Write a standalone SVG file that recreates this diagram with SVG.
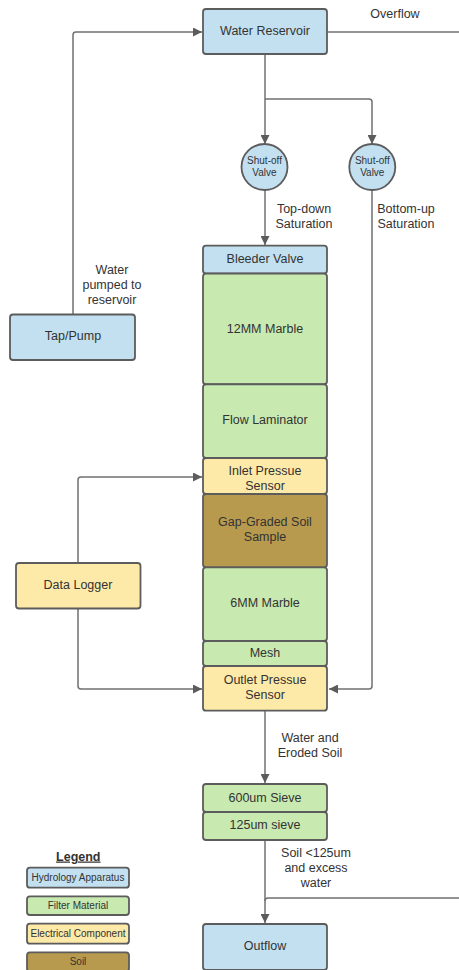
<svg xmlns="http://www.w3.org/2000/svg" width="459" height="970" viewBox="0 0 459 970">
  <style>
    .node { stroke: #5c5c5c; stroke-width: 1.8; }
    .hyd { fill: #c2e0f0; }
    .fil { fill: #c8e9b0; }
    .ele { fill: #fde9a8; }
    .soil { fill: #b89a4e; }
    .t { font-family: "Liberation Sans", Arial, sans-serif; font-size: 12.5px; fill: #333333; text-anchor: middle; }
    .s { font-family: "Liberation Sans", Arial, sans-serif; font-size: 10px; fill: #333333; text-anchor: middle; }
    .conn { fill: none; stroke: #707070; stroke-width: 1.5; }
  </style>
  <defs>
    <marker id="arrow" markerUnits="userSpaceOnUse" markerWidth="10" markerHeight="9" refX="9" refY="4.5" orient="auto">
      <path d="M0,0 L9,4.5 L0,9 z" fill="#5c5c5c"/>
    </marker>
  </defs>
  <rect width="459" height="970" fill="#ffffff"/>

  <!-- connectors -->
  <g id="connectors">
    <path class="conn" d="M73,314 V35 Q73,32 76,32 H202" marker-end="url(#arrow)"/>
    <path class="conn" d="M327,32 H459"/>
    <path class="conn" d="M265,54 V144" marker-end="url(#arrow)"/>
    <path class="conn" d="M265,99 H369 Q372,99 372,102 V144" marker-end="url(#arrow)"/>
    <path class="conn" d="M265,190 V245" marker-end="url(#arrow)"/>
    <path class="conn" d="M372,190 V686 Q372,689 369,689 H329" marker-end="url(#arrow)"/>
    <path class="conn" d="M78,563 V480 Q78,477 81,477 H202" marker-end="url(#arrow)"/>
    <path class="conn" d="M78,609 V686 Q78,689 81,689 H202" marker-end="url(#arrow)"/>
    <path class="conn" d="M265,711 V783" marker-end="url(#arrow)"/>
    <path class="conn" d="M265,840 V923" marker-end="url(#arrow)"/>
    <path class="conn" d="M459,898 H268 Q265,898 265,901"/>
    <text class="t" x="395" y="18">Overflow</text>
    <text class="t" x="304" y="213">Top-down</text>
    <text class="t" x="304" y="228">Saturation</text>
    <text class="t" x="406" y="213">Bottom-up</text>
    <text class="t" x="406" y="228">Saturation</text>
    <text class="t" x="112" y="274">Water</text>
    <text class="t" x="112" y="289">pumped to</text>
    <text class="t" x="112" y="304">reservoir</text>
    <text class="t" x="310" y="742">Water and</text>
    <text class="t" x="310" y="757">Eroded Soil</text>
    <text class="t" x="316" y="857">Soil &lt;125um</text>
    <text class="t" x="316" y="872">and excess</text>
    <text class="t" x="316" y="887">water</text>
  </g>

  <g id="water-reservoir">
    <rect class="node hyd" x="203" y="9" width="124" height="45" rx="3"/>
    <text class="t" x="265" y="35">Water Reservoir</text>
  </g>
  <g id="valve-top-down">
    <circle class="node hyd" cx="264.5" cy="167" r="23"/>
    <text class="s" x="264.5" y="163.5">Shut-off</text>
    <text class="s" x="264.5" y="175.5">Valve</text>
  </g>
  <g id="valve-bottom-up">
    <circle class="node hyd" cx="372.3" cy="167" r="23"/>
    <text class="s" x="372.3" y="163.5">Shut-off</text>
    <text class="s" x="372.3" y="175.5">Valve</text>
  </g>
  <g id="tap-pump">
    <rect class="node hyd" x="10" y="314.5" width="125" height="45.5" rx="3"/>
    <text class="t" x="73" y="340">Tap/Pump</text>
  </g>
  <g id="data-logger">
    <rect class="node ele" x="16" y="563" width="124.5" height="45.5" rx="3"/>
    <text class="t" x="78" y="588.5">Data Logger</text>
  </g>

  <g id="bleeder-valve">
    <rect class="node hyd" x="203" y="245.7" width="124" height="27.8" rx="3"/>
    <text class="t" x="265" y="262.8">Bleeder Valve</text>
  </g>
  <g id="marble-12mm">
    <rect class="node fil" x="203" y="273.7" width="124" height="110.5" rx="3"/>
    <text class="t" x="265" y="333">12MM Marble</text>
  </g>
  <g id="flow-laminator">
    <rect class="node fil" x="203" y="384.3" width="124" height="73.7" rx="3"/>
    <text class="t" x="265" y="424">Flow Laminator</text>
  </g>
  <g id="inlet-sensor">
    <rect class="node ele" x="203" y="458" width="124" height="36" rx="3"/>
    <text class="t" x="265" y="475">Inlet Pressue</text>
    <text class="t" x="265" y="490.3">Sensor</text>
  </g>
  <g id="soil-sample">
    <rect class="node soil" x="203" y="494" width="124" height="73.3" rx="3"/>
    <text class="t" x="265" y="526.3">Gap-Graded Soil</text>
    <text class="t" x="265" y="541">Sample</text>
  </g>
  <g id="marble-6mm">
    <rect class="node fil" x="203" y="567.3" width="124" height="73.7" rx="3"/>
    <text class="t" x="265" y="607">6MM Marble</text>
  </g>
  <g id="mesh">
    <rect class="node fil" x="203" y="641" width="124" height="25" rx="3"/>
    <text class="t" x="265" y="657">Mesh</text>
  </g>
  <g id="outlet-sensor">
    <rect class="node ele" x="203" y="666" width="124" height="44.7" rx="3"/>
    <text class="t" x="265" y="684">Outlet Pressue</text>
    <text class="t" x="265" y="699">Sensor</text>
  </g>

  <g id="sieve-600">
    <rect class="node fil" x="203" y="784" width="124" height="28" rx="3"/>
    <text class="t" x="265" y="801.6">600um Sieve</text>
  </g>
  <g id="sieve-125">
    <rect class="node fil" x="203" y="812" width="124" height="28" rx="3"/>
    <text class="t" x="265" y="829.3">125um sieve</text>
  </g>
  <g id="outflow">
    <rect class="node hyd" x="203" y="924" width="124" height="46" rx="3"/>
    <text class="t" x="265" y="950.3">Outflow</text>
  </g>

  <g id="legend">
    <text class="t" x="78.3" y="860.5" font-weight="bold" text-decoration="underline">Legend</text>
    <rect class="node hyd" x="27" y="867.7" width="102" height="20" rx="3"/>
    <text class="s" x="78" y="881">Hydrology Apparatus</text>
    <rect class="node fil" x="27" y="896.3" width="102" height="18.7" rx="3"/>
    <text class="s" x="78" y="909">Filter Material</text>
    <rect class="node ele" x="27" y="923.7" width="102" height="20" rx="3"/>
    <text class="s" x="78" y="937">Electrical Component</text>
    <rect class="node soil" x="27" y="952.3" width="102" height="19" rx="3"/>
    <text class="s" x="78" y="964.5">Soil</text>
  </g>
</svg>
